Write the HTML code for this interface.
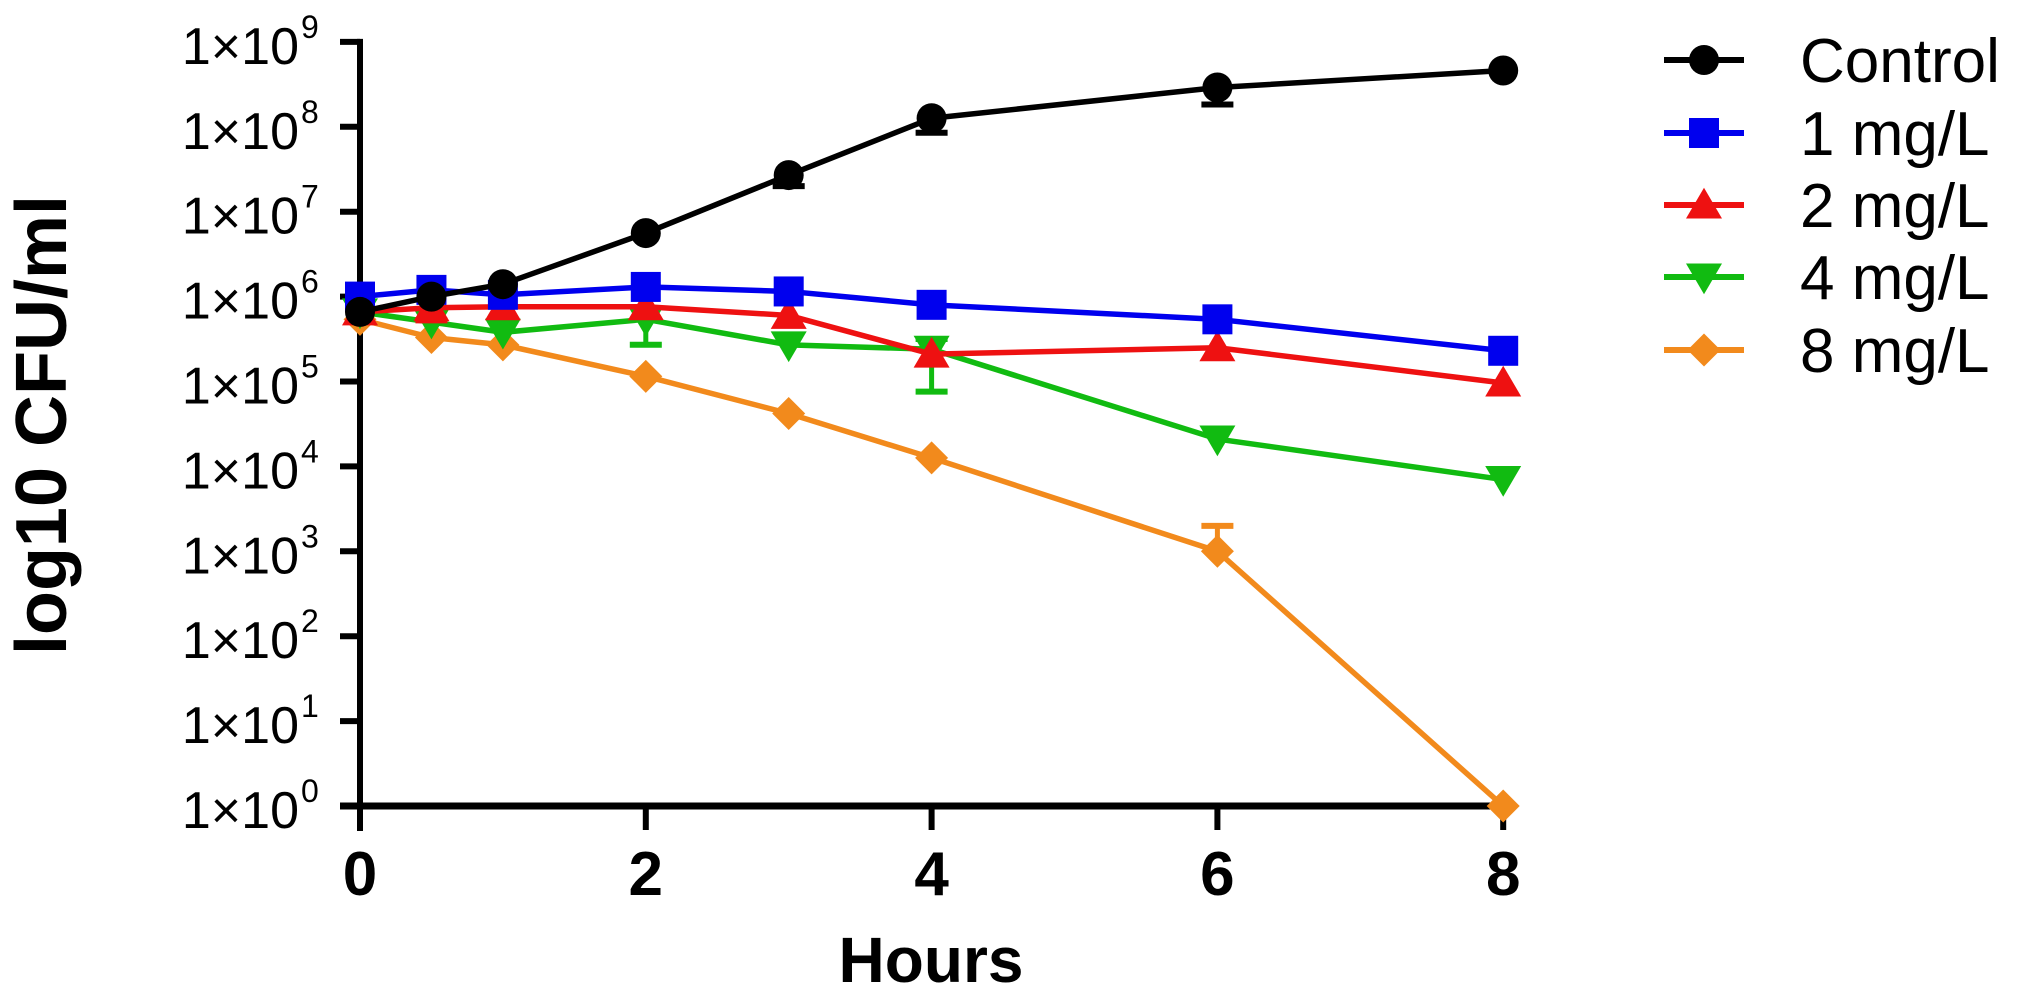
<!DOCTYPE html>
<html><head><meta charset="utf-8"><style>
html,body{margin:0;padding:0;background:#fff;}
svg{display:block;font-family:"Liberation Sans",Arial,sans-serif;}
</style></head><body>
<svg id="chart" width="2023" height="1004" viewBox="0 0 2023 1004" xmlns="http://www.w3.org/2000/svg">
<g id="axes"></g>
<g id="series"></g>
<g id="legend"></g>
<text transform="translate(66,425) rotate(-90)" text-anchor="middle" font-size="72" font-weight="bold">log10 CFU/ml</text>
<text x="931" y="982" text-anchor="middle" font-size="64" font-weight="bold">Hours</text>
</svg>
<script>
const hours = [0, 0.5, 1, 2, 3, 4, 6, 8];
const seriesNames = ["Control", "1 mg/L", "2 mg/L", "4 mg/L", "8 mg/L"];
const controlVals = [6.6e5, 1.0e6, 1.4e6, 5.6e6, 2.7e7, 1.26e8, 2.9e8, 4.6e8];
const mg1Vals = [1.0e6, 1.2e6, 1.05e6, 1.3e6, 1.15e6, 8e5, 5.4e5, 2.3e5];
const mg2Vals = [6.6e5, 7.4e5, 7.6e5, 7.6e5, 6e5, 2.1e5, 2.5e5, 9.6e4];
const mg4Vals = [6.6e5, 5e5, 3.8e5, 5.4e5, 2.7e5, 2.4e5, 2.1e4, 7e3];
const mg8Vals = [5.4e5, 3.3e5, 2.7e5, 1.15e5, 4.2e4, 1.26e4, 1e3, 1];
const controlErr = [0, 0, 0, 0, 0.13, 0.17, 0.2, 0];
const mg1Err = [0, 0, 0, 0, 0, 0, 0, 0];
const mg2Err = [0, 0.15, 0, 0, 0, 0, 0, 0];
const mg4Err = [0, 0, 0, 0.3, 0, 0.5, 0, 0];
const mg8Err = [0, 0, 0, 0, 0, 0, 0, 0];
const mg8ErrUp = [0, 0, 0, 0, 0, 0, 0.3, 0];
const mg4ErrUp = [0, 0, 0, 0, 0, 0.12, 0, 0];
const yTickExps = [0, 1, 2, 3, 4, 5, 6, 7, 8, 9];
const xTicks = [0, 2, 4, 6, 8];

const NS = "http://www.w3.org/2000/svg";
const X0 = 360, XPH = 142.9, Y0 = 806, DEC = 84.9;
function xs(h){ return X0 + h * XPH; }
function ys(v){ return Y0 - Math.log10(v) * DEC; }
function ysLog(l){ return Y0 - l * DEC; }
function mk(tag, attrs, parent){ const e = document.createElementNS(NS, tag); for (const k in attrs) e.setAttribute(k, attrs[k]); parent.appendChild(e); return e; }

const axes = document.getElementById("axes");
let a = mk("line", {x1: X0, y1: ysLog(9) - 3, x2: X0, y2: Y0 + 25, stroke: "#000", "stroke-width": 6}, axes);


a = mk("line", {x1: X0 - 20, y1: Y0, x2: xs(8) + 2, y2: Y0, stroke: "#000", "stroke-width": 7}, axes);


yTickExps.forEach(function(e){
  const y = ysLog(e);
  const t = mk("line", {x1: X0 - 20, y1: y, x2: X0, y2: y, stroke: "#000", "stroke-width": 6}, axes);
  
  
  const tx = mk("text", {x: 299, y: y + 22, "text-anchor": "end", "font-size": 52}, axes);
  
  
  tx.textContent = "1\u00d710";
  const sup = mk("text", {x: 301, y: y - 4, "text-anchor": "start", "font-size": 32}, axes);
  
  
  sup.textContent = String(e);
});
xTicks.forEach(function(h){
  const x = xs(h);
  const t = mk("line", {x1: x, y1: Y0, x2: x, y2: Y0 + 24, stroke: "#000", "stroke-width": 6}, axes);
  
  
  const tx = mk("text", {x: x, y: 895, "text-anchor": "middle", "font-size": 62, "font-weight": "bold"}, axes);
  
  
  tx.textContent = String(h);
});

function marker(kind, cx, cy, color, parent, s){
  s = s || 15;
  let m;
  if (kind === "circle") m = mk("circle", {cx: cx, cy: cy, r: s, fill: color}, parent);
  else if (kind === "square") m = mk("rect", {x: cx - s, y: cy - s, width: 2 * s, height: 2 * s, fill: color}, parent);
  else if (kind === "tri-up") m = mk("polygon", {points: (cx) + "," + (cy - s * 1.15) + " " + (cx + s * 1.2) + "," + (cy + s * 0.9) + " " + (cx - s * 1.2) + "," + (cy + s * 0.9), fill: color}, parent);
  else if (kind === "tri-down") m = mk("polygon", {points: (cx) + "," + (cy + s * 1.15) + " " + (cx + s * 1.2) + "," + (cy - s * 0.9) + " " + (cx - s * 1.2) + "," + (cy - s * 0.9), fill: color}, parent);
  else m = mk("polygon", {points: cx + "," + (cy - s * 1.1) + " " + (cx + s * 1.1) + "," + cy + " " + cx + "," + (cy + s * 1.1) + " " + (cx - s * 1.1) + "," + cy, fill: color}, parent);
  return m;
}

const seriesDefs = [
  {vals: controlVals, err: controlErr, up: null, color: "#000000", kind: "circle", key: "control"},
  {vals: mg1Vals, err: mg1Err, up: null, color: "#0000ee", kind: "square", key: "1mg"},
  {vals: mg2Vals, err: mg2Err, up: null, color: "#ee1111", kind: "tri-up", key: "2mg"},
  {vals: mg4Vals, err: mg4Err, up: mg4ErrUp, color: "#11bb11", kind: "tri-down", key: "4mg"},
  {vals: mg8Vals, err: mg8Err, up: mg8ErrUp, color: "#f28a1c", kind: "diamond", key: "8mg"}
];
const order = [4, 3, 2, 1, 0];
const sg = document.getElementById("series");
order.forEach(function(i){
  const d = seriesDefs[i];
  const g = mk("g", {}, sg);
  
  
  const pts = hours.map(function(h, j){ return xs(h) + "," + ys(d.vals[j]); }).join(" ");
  const pl = mk("polyline", {points: pts, fill: "none", stroke: d.color, "stroke-width": 5.5, "stroke-linejoin": "round"}, g);
  
  
  hours.forEach(function(h, j){
    const x = xs(h), y = ys(d.vals[j]);
    const lo = d.err[j], hi = d.up ? d.up[j] : 0;
    if (lo > 0) {
      const yl = ysLog(Math.log10(d.vals[j]) - lo);
      const e1 = mk("line", {x1: x, y1: y, x2: x, y2: yl, stroke: d.color, "stroke-width": 5}, g);
      
      
      const e2 = mk("line", {x1: x - 16, y1: yl, x2: x + 16, y2: yl, stroke: d.color, "stroke-width": 6}, g);
      
      
    }
    if (hi > 0) {
      const yh = ysLog(Math.log10(d.vals[j]) + hi);
      const e3 = mk("line", {x1: x, y1: y, x2: x, y2: yh, stroke: d.color, "stroke-width": 5}, g);
      
      
      const e4 = mk("line", {x1: x - 16, y1: yh, x2: x + 16, y2: yh, stroke: d.color, "stroke-width": 6}, g);
      
      
    }
    const m = marker(d.kind, x, y, d.color, g);
    
    
  });
});

const lg = document.getElementById("legend");
const legendY = [60, 133, 205, 277, 350];
seriesDefs.forEach(function(d, i){
  const y = legendY[i];
  const g = mk("g", {}, lg);
  
  
  mk("line", {x1: 1664, y1: y, x2: 1744, y2: y, stroke: d.color, "stroke-width": 6}, g);
  marker(d.kind, 1704, y, d.color, g, 15);
  const t = mk("text", {x: 1800, y: y + 22, "font-size": 62}, g);
  
  
  t.textContent = seriesNames[i];
});
</script>
</body></html>
